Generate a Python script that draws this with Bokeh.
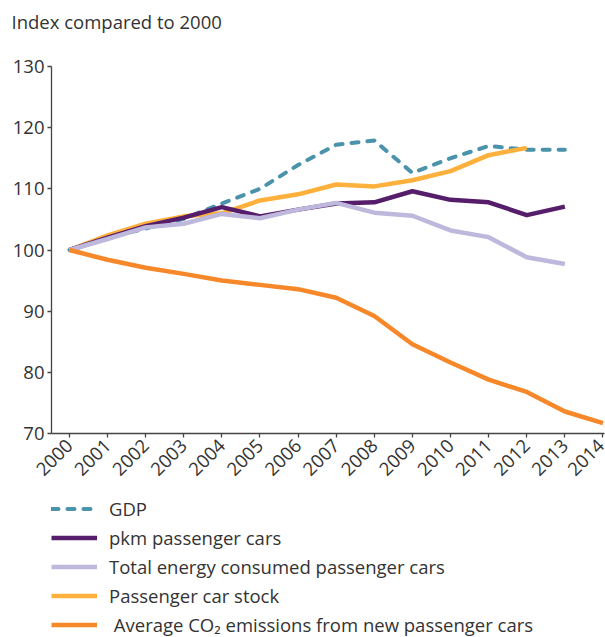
from bokeh.plotting import figure
from bokeh.models import Range1d, Legend, LegendItem, FixedTicker
from bokeh.layouts import column
from bokeh.embed import file_html
from bokeh.resources import INLINE
import math

years = list(range(2000, 2015))
gdp = [100, 102.0, 103.5, 105.1, 107.6, 110.0, 113.9, 117.2, 117.9, 112.6, 115.0, 117.0, 116.4, 116.4]
pkm = [100, 102.0, 103.9, 105.3, 107.0, 105.5, 106.6, 107.6, 107.8, 109.6, 108.2, 107.8, 105.7, 107.1]
energy = [100, 101.8, 103.7, 104.3, 105.9, 105.2, 106.6, 107.7, 106.1, 105.6, 103.2, 102.1, 98.8, 97.7]
stock = [100, 102.4, 104.3, 105.5, 106.0, 108.1, 109.1, 110.7, 110.4, 111.4, 112.9, 115.5, 116.7]
co2 = [100, 98.4, 97.1, 96.1, 95.0, 94.3, 93.6, 92.2, 89.2, 84.6, 81.6, 78.8, 76.8, 73.6, 71.7]

labels = ["GDP", "pkm passenger cars", "Total energy consumed passenger cars",
          "Passenger car stock", " Average CO\u2082 emissions from new passenger cars"]
colors = ["#4a93aa", "#561d6b", "#bdb8dc", "#fdb03b", "#f7882a"]
title_text = "Index compared to 2000"

FONT = "Open Sans"
TXT = "#333333"
FS = "18.5px"
W = 4.5

series = [gdp, pkm, energy, stock, co2]
draw_order = [0, 3, 1, 2, 4]


def add_lines(fig):
    rs = {}
    for i in draw_order:
        ys = series[i]
        if i == 0:
            rs[i] = fig.line(years[:len(ys)], ys, color=colors[i], line_width=4,
                             line_dash="7 9", line_cap="round")
        else:
            rs[i] = fig.line(years[:len(ys)], ys, color=colors[i], line_width=W,
                             line_join="round")
    return [rs[i] for i in range(5)]


# ---- title strip (title of a thin figure, shifted left past the frame edge)
pt = figure(width=605, height=45, output_backend="svg", toolbar_location=None,
            x_range=Range1d(0, 1), y_range=Range1d(0, 1),
            x_axis_location=None, y_axis_location=None,
            min_border_left=51, min_border_right=1, min_border_top=37, min_border_bottom=0)
pt.outline_line_color = None
pt.xgrid.visible = False
pt.ygrid.visible = False
pt.title.text = title_text
pt.title.align = "left"
pt.title.offset = -40
pt.title.standoff = 8
pt.title.text_font = FONT
pt.title.text_font_size = FS
pt.title.text_font_style = "normal"
pt.title.text_color = TXT

# ---- main chart
p = figure(frame_width=553, frame_height=367, output_backend="svg", toolbar_location=None,
           x_range=Range1d(1999.53, 2014.04), y_range=Range1d(70, 130),
           min_border_left=51, min_border_right=1, min_border_top=21, min_border_bottom=55)
p.outline_line_color = None
p.xgrid.visible = False
p.ygrid.visible = False
add_lines(p)

for ax in (p.xaxis[0], p.yaxis[0]):
    ax.axis_line_color = "#444444"
    ax.axis_line_width = 1.3
    ax.major_tick_line_color = "#444444"
    ax.major_tick_line_width = 1.3
    ax.major_tick_out = 4
    ax.major_tick_in = 0
    ax.minor_tick_line_color = None
    ax.major_label_text_font = FONT
    ax.major_label_text_font_size = FS
    ax.major_label_text_color = TXT
    ax.major_label_standoff = 3

p.xaxis[0].ticker = FixedTicker(ticks=years)
p.xaxis[0].major_label_orientation = math.pi / 4
p.xaxis[0].major_label_standoff = 5
p.yaxis[0].ticker = FixedTicker(ticks=[70, 80, 90, 100, 110, 120, 130])

# ---- legend strip (lines kept outside the visible range; only the legend shows)
pl = figure(width=605, height=149, output_backend="svg", toolbar_location=None,
            x_range=Range1d(0, 1), y_range=Range1d(0, 1),
            x_axis_location=None, y_axis_location=None,
            min_border_left=48, min_border_top=8, min_border_right=0, min_border_bottom=0)
pl.outline_line_color = None
pl.xgrid.visible = False
pl.ygrid.visible = False
leg_rs = add_lines(pl)
legend = Legend(items=[LegendItem(label=l, renderers=[r]) for l, r in zip(labels, leg_rs)],
                location="top_left", orientation="vertical",
                label_text_font=FONT, label_text_font_size=FS, label_text_color=TXT,
                glyph_width=46, glyph_height=25, label_height=25, label_standoff=12, spacing=4,
                padding=4, margin=0, border_line_color=None, background_fill_alpha=0)
pl.add_layout(legend, "center")

layout = column(pt, p, pl, spacing=0)
open("out.html", "w").write(file_html(layout, INLINE))
